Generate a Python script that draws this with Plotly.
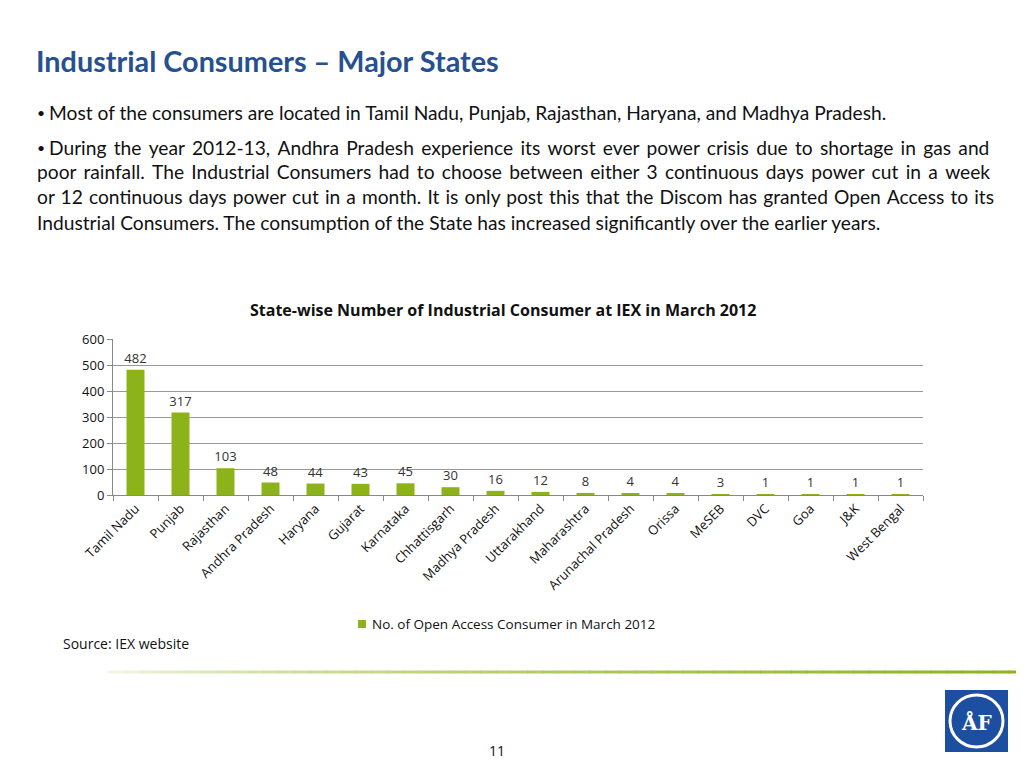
import plotly.graph_objects as go

states = ["Tamil Nadu", "Punjab", "Rajasthan", "Andhra Pradesh", "Haryana", "Gujarat",
          "Karnataka", "Chhattisgarh", "Madhya Pradesh", "Uttarakhand", "Maharashtra",
          "Arunachal Pradesh", "Orissa", "MeSEB", "DVC", "Goa", "J&K", "West Bengal"]
consumers = [482, 317, 103, 48, 44, 43, 45, 30, 16, 12, 8, 4, 4, 3, 1, 1, 1, 1]
y_ticks = [0, 100, 200, 300, 400, 500, 600]

series_name = "No. of Open Access Consumer in March 2012"
chart_title = "State-wise Number of Industrial Consumer at IEX in March 2012"
slide_title = "Industrial Consumers \u2013 Major States"
# (bullet, text, y, extra inter-word space used to imitate justified text)
body_lines = [
    ("\u2022", "Most of the consumers are located in Tamil Nadu, Punjab, Rajasthan, Haryana, and Madhya Pradesh.", 113, ""),
    ("\u2022", "During the year 2012-13, Andhra Pradesh experience its worst ever power crisis due to shortage in gas and", 147, "\u2009"),
    ("", "poor rainfall. The Industrial Consumers had to choose between either 3 continuous days power cut in a week", 172, "\u2009"),
    ("", "or 12 continuous days power cut in a month. It is only post this that the Discom has granted Open Access to its", 197, "\u200a"),
    ("", "Industrial Consumers. The consumption of the State has increased significantly over the earlier years.", 222, ""),
]

OFF = 8  # browser body margin
W, H = 1024 - 2 * OFF, 768 - 2 * OFF
L, R, T, B = 113, 923, 339, 495  # plot area in reference pixels


def px(x):
    return (x - L) / (R - L)


def py(y):
    return (B - y) / (B - T)


BAR = "#8DB31A"
FONT = "Open Sans"
TXT = "Lato"

fig = go.Figure()
fig.add_trace(go.Bar(
    x=states, y=consumers, name=series_name,
    marker=dict(color=BAR, line=dict(width=0)),
    text=[str(v) for v in consumers], textposition="outside",
    constraintext="none",
    textfont=dict(family=FONT, size=13, color="#333333"),
    cliponaxis=False, showlegend=False,
))

annotations = []


def note(text, x, y, size, family=FONT, color="#111111", xanchor="left"):
    annotations.append(dict(text=text, x=px(x), y=py(y), xref="paper", yref="paper",
                            xanchor=xanchor, yanchor="middle", showarrow=False,
                            font=dict(family=family, size=size, color=color)))


note("<b>" + slide_title + "</b>", 34, 61, 28.8, family=TXT, color="#27508F")
for bullet, txt, y0, extra in body_lines:
    if extra:
        txt = txt.replace(" ", " " + extra)
    if bullet:
        note(bullet, 35, y0, 14, family=TXT)
        note(txt, 47, y0, 19.2, family=TXT)
    else:
        note(txt, 35, y0, 19.2, family=TXT)
note("<b>" + chart_title + "</b>", 503, 310, 16, xanchor="center")
note("Source: IEX website", 61, 643, 14)
note("11", 497, 750, 14, xanchor="center")
note(series_name, 370, 624, 13.5)

shapes = []
# legend swatch
shapes.append(dict(type="rect", xref="paper", yref="paper", x0=px(358), x1=px(366),
                   y0=py(628), y1=py(620), fillcolor=BAR, line=dict(width=0)))
# gradient rule
n = 60
x_start, x_end = 92, 1024
for i in range(n):
    a = i / (n - 1)
    r1, g1, b1 = 0x8D, 0xB3, 0x1A
    t = a ** 0.55
    col = "rgb(%d,%d,%d)" % (255 + (r1 - 255) * t, 255 + (g1 - 255) * t, 255 + (b1 - 255) * t)
    xa = x_start + (x_end - x_start) * i / n
    xb = x_start + (x_end - x_start) * (i + 1) / n + 1
    shapes.append(dict(type="rect", xref="paper", yref="paper", x0=px(xa), x1=px(xb),
                       y0=py(673.5), y1=py(670.5), fillcolor=col, line=dict(width=0), layer="above"))
# logo
shapes.append(dict(type="rect", xref="paper", yref="paper", x0=px(945), x1=px(1008),
                   y0=py(752), y1=py(690), fillcolor="#1D4FA0", line=dict(width=0)))
shapes.append(dict(type="circle", xref="paper", yref="paper", x0=px(950), x1=px(1003),
                   y0=py(747), y1=py(695), fillcolor="rgba(0,0,0,0)", line=dict(color="white", width=3)))
note("<b>\u00c5F</b>", 976.5, 723, 20, family="DejaVu Serif", color="white", xanchor="center")

fig.update_layout(
    width=W, height=H,
    margin=dict(l=L - OFF, r=W - (R - OFF), t=T - OFF, b=H - (B - OFF), pad=0),
    paper_bgcolor="white", plot_bgcolor="white",
    bargap=0.6,
    showlegend=False,
    font=dict(family=FONT, size=12, color="#111111"),
    xaxis=dict(
        type="category", tickangle=-45, tickson="boundaries",
        ticks="outside", ticklen=5, tickcolor="#888888",
        showline=True, linecolor="#888888", linewidth=1,
        showgrid=False, tickfont=dict(family=FONT, size=13, color="#111111"),
        range=[-0.5, len(states) - 0.5],
    ),
    yaxis=dict(
        range=[0, 600], tickvals=y_ticks, ticks="outside", ticklen=5, tickcolor="#888888",
        showline=True, linecolor="#888888", linewidth=1,
        showgrid=True, gridcolor="#999999", gridwidth=1, zeroline=False,
        tickfont=dict(family=FONT, size=13, color="#111111"),
    ),
    annotations=annotations,
    shapes=shapes,
)

fig.write_html("out.html")
